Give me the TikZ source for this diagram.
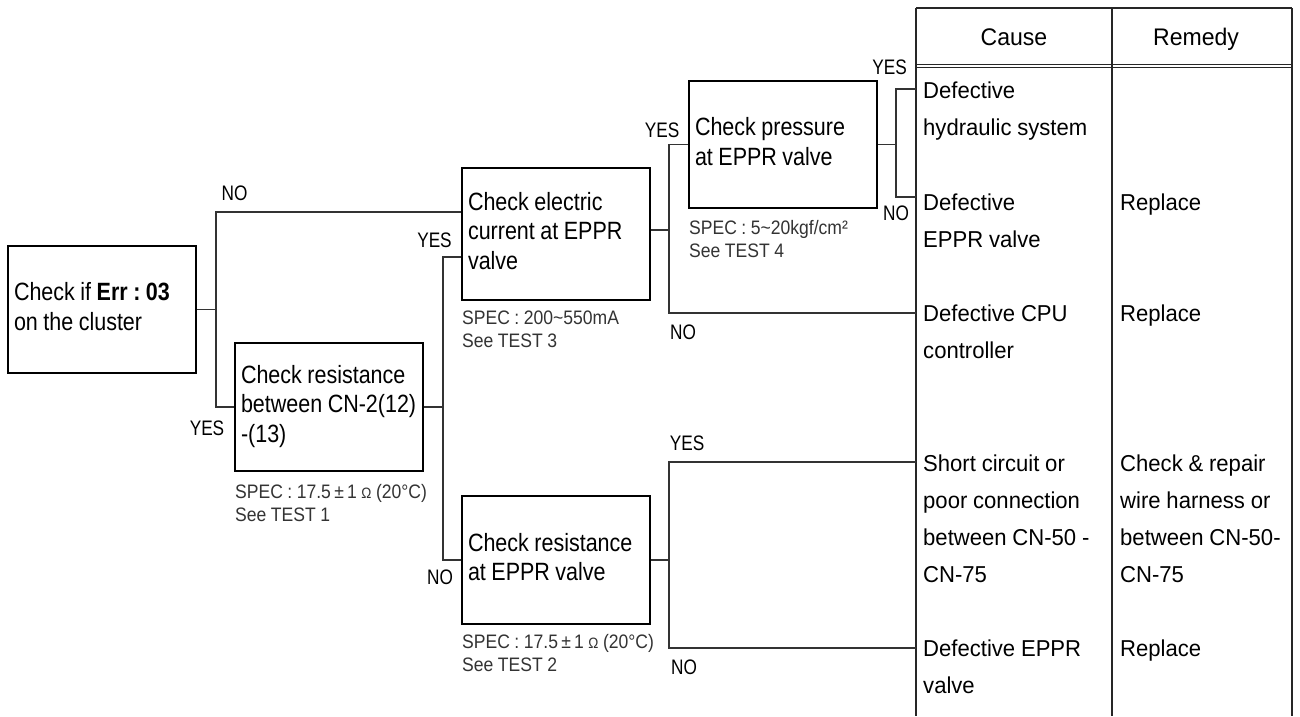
\documentclass[tikz,border=0pt]{standalone}
\usepackage{fontspec}
\setmainfont{Liberation Sans}
\newfontfamily\boxfont{Liberation Sans}[FakeStretch=0.86]
\newfontfamily\ynfont{Liberation Sans}[FakeStretch=0.82]
\newfontfamily\specfont{Liberation Sans}[FakeStretch=0.9]
\newfontfamily\cellfont{Liberation Sans}[FakeStretch=0.96]
\newcommand\boxsp{\spaceskip=5.5pt\relax\xspaceskip=5.5pt\relax}
\newcommand\specsp{\spaceskip=4.5pt\relax\xspaceskip=4.5pt\relax}
\newcommand\cellsp{\spaceskip=5.8pt\relax\xspaceskip=5.8pt\relax}
\begin{document}
\frenchspacing
\begin{tikzpicture}[x=1pt,y=-1pt,
  box/.style={draw, line width=2pt, minimum height=128pt, text width=176pt, inner xsep=6pt, inner ysep=0pt, align=left, font=\boxfont\fontsize{25}{29.5}\selectfont, execute at begin node=\boxsp},
  conn/.style={line width=1.3pt, draw=black!80},
  yn/.style={inner sep=0pt, font=\ynfont\fontsize{21}{21}\selectfont},
  spec/.style={anchor=north west, inner sep=0pt, align=left, font=\specfont\fontsize{19.5}{23}\selectfont, execute at begin node=\specsp, text=black!80},
  cell/.style={anchor=north west, inner sep=0pt, align=left, font=\cellfont\fontsize{23}{37}\selectfont, execute at begin node=\cellsp},
  head/.style={anchor=base, inner sep=0pt, font=\cellfont\fontsize{24}{24}\selectfont},
  tline/.style={draw=black!85}
]
\useasboundingbox (0,0) rectangle (1300,716);

% decision boxes
\node[box, minimum height=127pt] (start) at (102,309.5) {\strut Check if \textbf{Err : 03}\\on the cluster\strut};
\node[box] (res1) at (329,407) {\strut Check resistance\\\mbox{between CN-2(12)}\\-(13)\strut};
\node[box, minimum height=132pt] (elec) at (556,234) {\strut Check electric\\current at EPPR\\valve\strut};
\node[box, minimum height=127pt] (press) at (783,144.5) {\strut Check pressure\\at EPPR valve\strut};
\node[box] (res2) at (556,560) {\strut Check resistance\\at EPPR valve\strut};

% spec notes
\node[spec] (s1) at (235,481.9) {\strut SPEC : 17.5\,±\,1 {\fontsize{15}{15}\selectfont Ω} (20°C)\\See TEST 1};
\node[spec] (s3) at (462,307.9) {\strut SPEC : 200\textasciitilde 550mA\\See TEST 3};
\node[spec] (s4) at (689,217.9) {\strut SPEC : 5\textasciitilde 20kgf/cm²\\See TEST 4};
\node[spec] (s2) at (462,631.9) {\strut SPEC : 17.5\,±\,1 {\fontsize{15}{15}\selectfont Ω} (20°C)\\See TEST 2};

% table frame
\coordinate (tl) at (916,8);
\coordinate (tm) at (1112,8);
\coordinate (tr) at (1292,8);
\coordinate (bl) at (916,716);
\coordinate (bm) at (1112,716);
\coordinate (br) at (1292,716);
\coordinate (h1l) at (916,64);
\coordinate (h1r) at (1292,64);
\coordinate (h2l) at (916,67.5);
\coordinate (h2r) at (1292,67.5);
\draw[tline, line width=1.5pt] (tl) -- (tr);
\draw[tline, line width=2.5pt] (tl) -- (bl);
\draw[tline, line width=2pt] (tr) -- (br);
\draw[tline, line width=1.4pt] (tm) -- (bm);
\draw[tline, line width=1pt] (h1l) -- (h1r);
\draw[tline, line width=1pt] (h2l) -- (h2r);

\node[head] (hc) at (1014,45.5) {Cause};
\node[head] (hr) at (1196,45.5) {Remedy};

\node[cell] (c1) at (923,72.6) {\strut Defective\\hydraulic system};
\node[cell] (c2) at (923,184.6) {\strut Defective\\EPPR valve};
\node[cell] (r2) at (1120,184.6) {\strut Replace};
\node[cell] (c3) at (923,295.6) {\strut Defective CPU\\controller};
\node[cell] (r3) at (1120,295.6) {\strut Replace};
\node[cell] (c4) at (923,445.6) {\strut Short circuit or\\poor connection\\between CN-50 -\\CN-75};
\node[cell] (r4) at (1120,445.6) {\strut Check \& repair\\wire harness or\\between CN-50-\\CN-75};
\node[cell] (c5) at (923,630.6) {\strut Defective EPPR\\valve};
\node[cell] (r5) at (1120,630.6) {\strut Replace};

% connectors
\coordinate (j1t) at (216,212);
\coordinate (j1b) at (216,407);
\draw[conn] (start.east) -- (start.east -| j1t);
\draw[conn] (elec.west |- j1t) -- (j1t) -- (j1b) -- (res1.west |- j1b);

\coordinate (j2t) at (443,257);
\coordinate (j2b) at (443,560);
\draw[conn] (res1.east) -- (res1.east -| j2t);
\draw[conn] (elec.west |- j2t) -- (j2t) -- (j2b) -- (res2.west |- j2b);

\coordinate (j3m) at (669,230);
\coordinate (j3b) at (669,313);
\draw[conn] (elec.east |- j3m) -- (j3m);
\draw[conn] (press.west) -- (press.west -| j3m) -- (j3b) -- (tl |- j3b);

\coordinate (j4t) at (896,89);
\coordinate (j4b) at (896,197);
\draw[conn] (press.east) -- (press.east -| j4t);
\draw[conn] (tl |- j4t) -- (j4t) -- (j4b) -- (tl |- j4b);

\coordinate (j5t) at (669,462);
\coordinate (j5b) at (669,648);
\draw[conn] (res2.east) -- (res2.east -| j5t);
\draw[conn] (tl |- j5t) -- (j5t) -- (j5b) -- (tl |- j5b);

% YES / NO labels
\node[yn] (l1) at (234.5,193) {NO};
\node[yn] (l2) at (207,428) {YES};
\node[yn] (l3) at (434.5,240) {YES};
\node[yn] (l4) at (440,577) {NO};
\node[yn] (l5) at (662,130) {YES};
\node[yn] (l6) at (683,332) {NO};
\node[yn] (l7) at (889.5,67) {YES};
\node[yn] (l8) at (896,213) {NO};
\node[yn] (l9) at (687,443) {YES};
\node[yn] (l10) at (684,667) {NO};
\end{tikzpicture}
\end{document}
